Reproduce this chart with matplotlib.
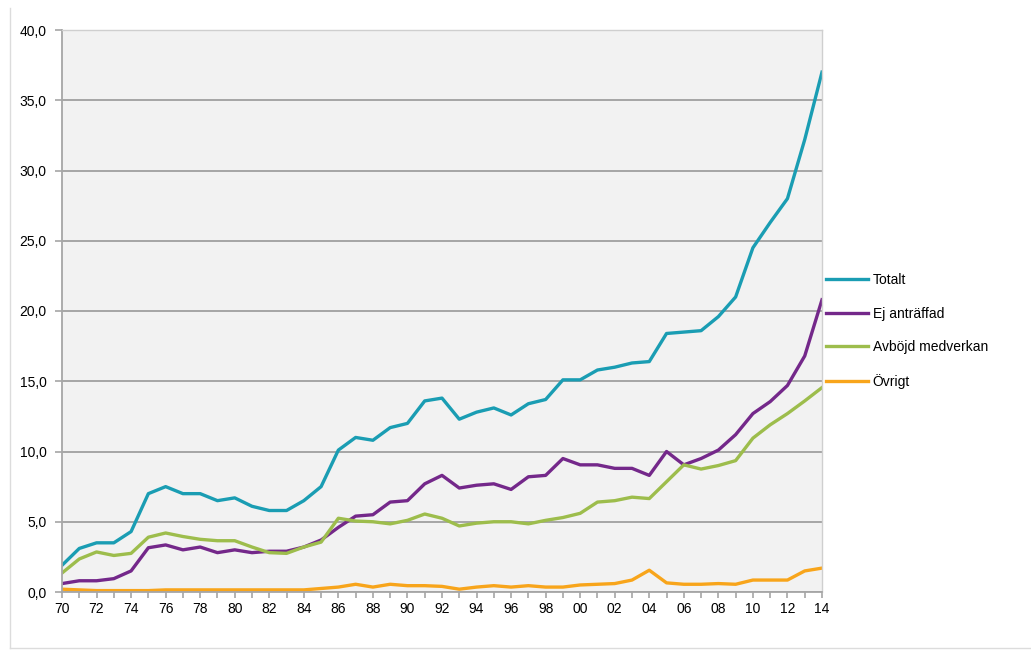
import matplotlib
matplotlib.use("Agg")
import matplotlib.pyplot as plt
from matplotlib.lines import Line2D
from matplotlib.ticker import FuncFormatter, MultipleLocator

years = list(range(1970, 2015))
totalt = [1.9, 3.1, 3.5, 3.5, 4.3, 7.0, 7.5, 7.0, 7.0, 6.5,
          6.7, 6.1, 5.8, 5.8, 6.5, 7.5, 10.1, 11.0, 10.8, 11.7,
          12.0, 13.6, 13.8, 12.3, 12.8, 13.1, 12.6, 13.4, 13.7, 15.1,
          15.1, 15.8, 16.0, 16.3, 16.4, 18.4, 18.5, 18.6, 19.6, 21.0,
          24.5, 26.3, 28.0, 32.2, 37.0]
ej_antraffad = [0.6, 0.8, 0.8, 0.95, 1.5, 3.15, 3.35, 3.0, 3.2, 2.8,
                3.0, 2.8, 2.9, 2.9, 3.2, 3.7, 4.6, 5.4, 5.5, 6.4,
                6.5, 7.7, 8.3, 7.4, 7.6, 7.7, 7.3, 8.2, 8.3, 9.5,
                9.05, 9.05, 8.8, 8.8, 8.3, 10.0, 9.05, 9.5, 10.1, 11.2,
                12.7, 13.55, 14.7, 16.8, 20.8]
avbojd = [1.35, 2.35, 2.85, 2.6, 2.75, 3.9, 4.2, 3.95, 3.75, 3.65,
          3.65, 3.2, 2.8, 2.75, 3.2, 3.55, 5.25, 5.05, 5.0, 4.85,
          5.1, 5.55, 5.25, 4.7, 4.9, 5.0, 5.0, 4.85, 5.1, 5.3,
          5.6, 6.4, 6.5, 6.75, 6.65, 7.85, 9.05, 8.75, 9.0, 9.35,
          10.95, 11.9, 12.7, 13.6, 14.55]
ovrigt = [0.2, 0.15, 0.1, 0.1, 0.1, 0.1, 0.15, 0.15, 0.15, 0.15,
          0.15, 0.15, 0.15, 0.15, 0.15, 0.25, 0.35, 0.55, 0.35, 0.55,
          0.45, 0.45, 0.4, 0.2, 0.35, 0.45, 0.35, 0.45, 0.35, 0.35,
          0.5, 0.55, 0.6, 0.85, 1.55, 0.65, 0.55, 0.55, 0.6, 0.55,
          0.85, 0.85, 0.85, 1.5, 1.7]

labels = ["Totalt", "Ej anträffad", "Avböjd medverkan", "Övrigt"]
colors = ["#1a9db3", "#74288a", "#9dbd4c", "#f8a51b"]
series = [totalt, ej_antraffad, avbojd, ovrigt]

plt.rcParams['font.family'] = ['Liberation Sans', 'DejaVu Sans']

fig = plt.figure(figsize=(10.31, 6.51), dpi=100)
ax = fig.add_axes([62/1031, 1 - 592/651, (822-62)/1031, (592-30)/651])
ax.set_facecolor("#f2f2f2")

for vals, c, lab in zip(series, colors, labels):
    ax.plot(years, vals, color=c, lw=2.4, label=lab, solid_joinstyle='round')

ax.set_xlim(1970, 2014)
ax.set_ylim(0, 40)
ax.yaxis.set_major_locator(MultipleLocator(5))
ax.yaxis.set_major_formatter(FuncFormatter(lambda v, p: f"{v:.1f}".replace(".", ",")))
ax.xaxis.set_major_locator(MultipleLocator(2))
ax.xaxis.set_minor_locator(MultipleLocator(1))
ax.xaxis.set_major_formatter(FuncFormatter(lambda v, p: f"{int(round(v)) % 100:02d}"))

ax.grid(axis='y', color="#a0a0a0", lw=1.3)
ax.set_axisbelow(True)
for s in ['left', 'bottom']:
    ax.spines[s].set_color("#a6a6a6")
    ax.spines[s].set_linewidth(1.3)
for s in ['top', 'right']:
    ax.spines[s].set_color("#cfcfcf")
    ax.spines[s].set_linewidth(1.0)

ax.tick_params(axis='y', direction='out', length=5, width=1.2, color="#a6a6a6",
               labelsize=10, pad=6)
ax.tick_params(axis='x', which='both', direction='out', length=4, width=1.2,
               color="#a6a6a6", labelsize=10, pad=3)

ax.legend(loc='center left', bbox_to_anchor=(826/1031, 1 - 331/651),
          bbox_transform=fig.transFigure, frameon=False, fontsize=10,
          handlelength=3.0, handletextpad=0.35, labelspacing=1.4,
          borderaxespad=0, borderpad=0)

# faint outer chart frame
fig.add_artist(Line2D([10/1031, 10/1031], [1 - 648/651, 1 - 8/651],
                      transform=fig.transFigure, color="#dcdcdc", lw=1))
fig.add_artist(Line2D([10/1031, 1], [1 - 648/651, 1 - 648/651],
                      transform=fig.transFigure, color="#dcdcdc", lw=1))

fig.savefig("out.png", dpi=100)
